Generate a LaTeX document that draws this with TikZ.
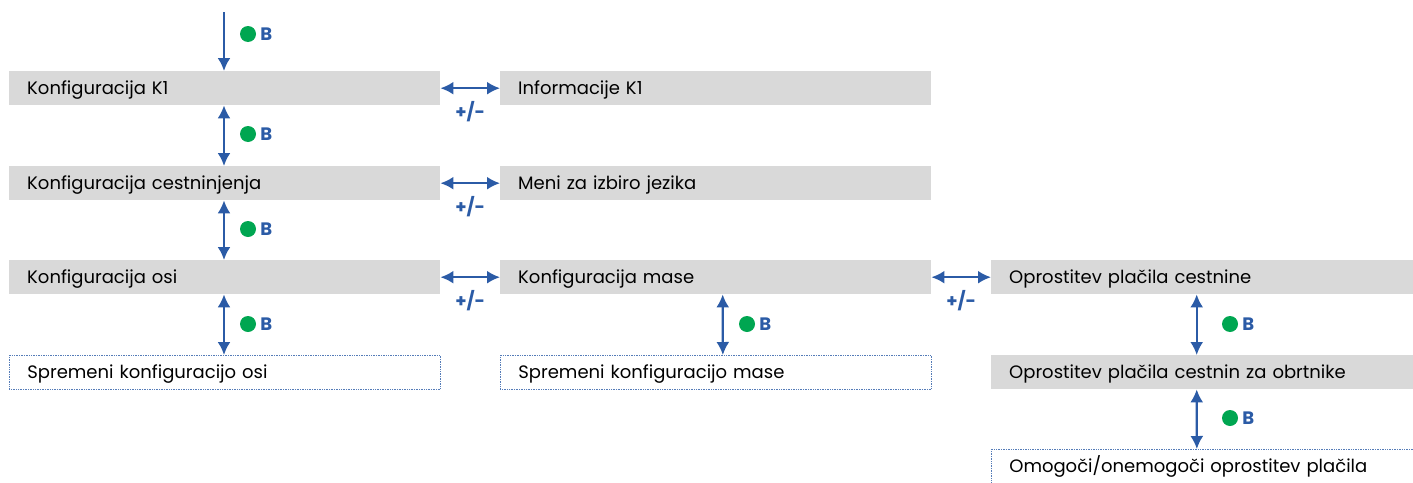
\documentclass[tikz,border=0pt]{standalone}
\usepackage{fontspec}
\setmainfont{Poppins}
\usetikzlibrary{arrows.meta}
\definecolor{boxgray}{HTML}{D9D9D9}
\definecolor{keyblue}{HTML}{2B5BA6}
\definecolor{keygreen}{HTML}{00A651}
\tikzset{
  menu/.style={fill=boxgray, anchor=north west, minimum width=431pt, minimum height=34pt,
    text width=395pt, text height=14pt, text depth=2pt, inner xsep=18pt, inner ysep=0pt,
    align=left, font=\fontsize{18}{20}\selectfont},
  submenu/.style={menu, fill=none, draw=keyblue!80, densely dotted, line width=0.7pt},
  nav/.style={draw=keyblue, line width=2.2pt, {Latex[length=13pt,width=13pt]}-{Latex[length=13pt,width=13pt]}},
  navdown/.style={draw=keyblue, line width=2.2pt, -{Latex[length=13pt,width=13pt]}},
  keyb/.style={text=keyblue, font=\fontsize{18}{20}\selectfont\bfseries, inner sep=0pt},
  keydot/.style={circle, fill=keygreen, minimum size=16pt, inner sep=0pt},
}
% key label: green dot and B next to an arrow
\newcommand{\keyB}[2]{%
  \node[keydot] (#1d) at (#2) {};
  \node[keyb, anchor=west] (#1b) at ([xshift=4pt]#1d.east) {B};
}
\begin{document}
\begin{tikzpicture}[x=1pt,y=-1pt]
\useasboundingbox (0,0) rectangle (1413,482);
\clip (0,0) rectangle (1413,482);
%column 1
\node[menu] (k1) at (9,71) {Konfiguracija K1};
\node[menu] (kc) at (9,166) {Konfiguracija cestninjenja};
\node[menu] (ko) at (9,260) {Konfiguracija osi};
\node[submenu] (so) at (9,355) {Spremeni konfiguracijo osi};
%column 2
\node[menu] (i1) at (500,71) {Informacije K1};
\node[menu] (mj) at (500,166) {Meni za izbiro jezika};
\node[menu] (km) at (500,260) {Konfiguracija mase};
\node[submenu] (sm) at (500,355) {Spremeni konfiguracijo mase};
%column 3
\node[menu] (op) at (991,260) {Oprostitev plačila cestnine};
\node[menu] (oo) at (991,355) {Oprostitev plačila cestnin za obrtnike};
\node[submenu] (om) at (991,449) {Omogoči/onemogoči oprostitev plačila};
%vertical arrows
\coordinate (top) at (224,12);
\draw[navdown] (top) -- (top |- k1.north);
\draw[nav] (k1.south -| top) -- (kc.north -| top);
\draw[nav] (kc.south -| top) -- (ko.north -| top);
\draw[nav] (ko.south -| top) -- (so.north -| top);
\draw[nav] ([xshift=7pt]km.south) -- ([xshift=7pt]sm.north);
\draw[nav] ([xshift=-10pt]op.south) -- ([xshift=-10pt]oo.north);
\draw[nav] ([xshift=-10pt]oo.south) -- ([xshift=-10pt]om.north);
%keys
\keyB{a}{248,34}
\keyB{b}{248,134}
\keyB{c}{248,229}
\keyB{d}{248,324}
\keyB{e}{747,324}
\keyB{f}{1230,324}
\keyB{g}{1230,418}
%horizontal arrows
\draw[nav] (k1.east) -- (i1.west) node[midway, below=12pt, keyb] {+/-};
\draw[nav] (kc.east) -- (mj.west) node[midway, below=12pt, keyb] {+/-};
\draw[nav] (ko.east) -- (km.west) node[midway, below=12pt, keyb] {+/-};
\draw[nav] (km.east) -- (op.west) node[midway, below=12pt, keyb] {+/-};
\end{tikzpicture}
\end{document}
